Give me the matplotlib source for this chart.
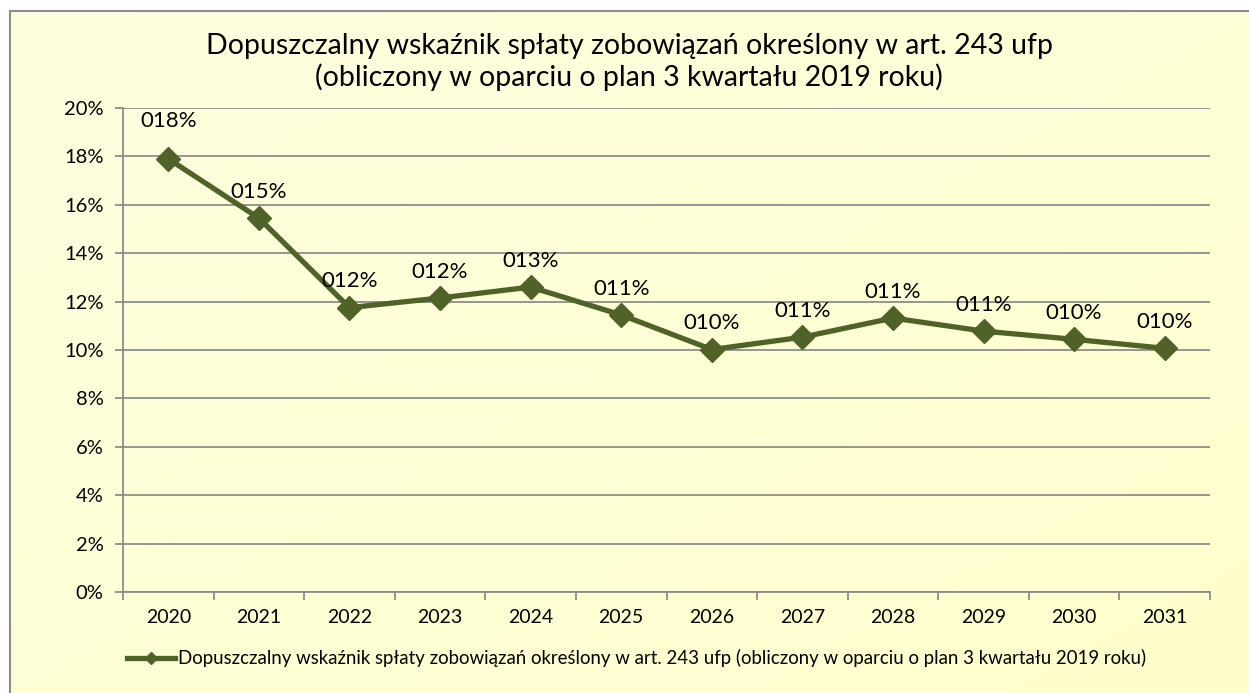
import numpy as np
import matplotlib.pyplot as plt
from matplotlib.lines import Line2D
from matplotlib.patches import Rectangle
from matplotlib.ticker import FuncFormatter

years = ["2020", "2021", "2022", "2023", "2024", "2025",
         "2026", "2027", "2028", "2029", "2030", "2031"]
values = [17.9, 15.45, 11.75, 12.15, 12.6, 11.45,
          10.02, 10.53, 11.32, 10.78, 10.44, 10.07]
labels = ["018%", "015%", "012%", "012%", "013%", "011%",
          "010%", "011%", "011%", "011%", "010%", "010%"]

title = ("Dopuszczalny wskaźnik spłaty zobowiązań określony w art. 243 ufp\n"
         "(obliczony w oparciu o plan 3 kwartału 2019 roku)")
series_name = ("Dopuszczalny wskaźnik spłaty zobowiązań określony w art. 243 ufp "
               "(obliczony w oparciu o plan 3 kwartału 2019 roku)")

W, H = 1249, 693
line_color = "#4F6228"
grid_color = "#8C8C8C"
plt.rcParams["font.family"] = ["Lato", "DejaVu Sans"]

fig = plt.figure(figsize=(W / 100, H / 100), dpi=100)
fig.patch.set_facecolor("white")

# chart area background with a faint gradient
bg = fig.add_axes([10 / W, 0, 1, 1 - 11 / H])
grad = np.linspace(0, 1, 256)
gx, gy = np.meshgrid(grad, grad)
mix = (gx + gy) / 2
c0 = np.array([254, 254, 224]) / 255
c1 = np.array([255, 255, 204]) / 255
img = c0[None, None, :] * (1 - mix[..., None]) + c1[None, None, :] * mix[..., None]
bg.imshow(img, aspect="auto", extent=[0, 1, 0, 1], origin="upper")
bg.set_axis_off()
fig.patches.append(Rectangle((10 / W, -0.01), 1, 1 - 11 / H + 0.01,
                             transform=fig.transFigure, fill=False,
                             edgecolor="#8C8C8C", linewidth=1.5, zorder=5))

ax = fig.add_axes([123 / W, (H - 592) / H, (1210 - 123) / W, (592 - 108) / H])
ax.set_facecolor("none")
x = np.arange(len(years))
ax.plot(x, values, color=line_color, linewidth=3.8, marker="D",
        markersize=12, zorder=3)

for i, (v, lab) in enumerate(zip(values, labels)):
    off = 27 if i == 0 else 19
    ax.annotate(lab, (i, v), xytext=(0, off), textcoords="offset points",
                ha="center", va="center", fontsize=16, color="black")

ax.set_xlim(-0.5, len(years) - 0.5)
ax.set_ylim(0, 20)
ax.set_yticks(np.arange(0, 21, 2))
ax.yaxis.set_major_formatter(FuncFormatter(lambda v, p: f"{v:.0f}%"))
ax.set_xticks(x)
ax.set_xticklabels(years)
ax.set_xticks(np.arange(-0.5, len(years)), minor=True)
ax.tick_params(axis="x", which="major", length=0, pad=12, labelsize=14)
ax.tick_params(axis="x", which="minor", length=6, color=grid_color, width=1.3)
ax.tick_params(axis="y", length=6, color=grid_color, width=1.3, pad=8,
               labelsize=14.5)
ax.grid(axis="y", color=grid_color, linewidth=1.3)
ax.set_axisbelow(True)
for s in ["top", "right"]:
    ax.spines[s].set_visible(False)
for s in ["left", "bottom"]:
    ax.spines[s].set_color(grid_color)
    ax.spines[s].set_linewidth(1.3)

fig.text(629 / W, 1 - 62 / H, title, ha="center", va="center",
         fontsize=20.5, linespacing=1.2)

handle = Line2D([], [], color=line_color, linewidth=3.8, marker="D",
                markersize=6)
fig.legend([handle], [series_name], loc="center left",
           bbox_to_anchor=(110 / W, 1 - 658 / H), frameon=False,
           fontsize=13.4, handlelength=2.6, handletextpad=0.15)

fig.savefig("out.png", dpi=100)
